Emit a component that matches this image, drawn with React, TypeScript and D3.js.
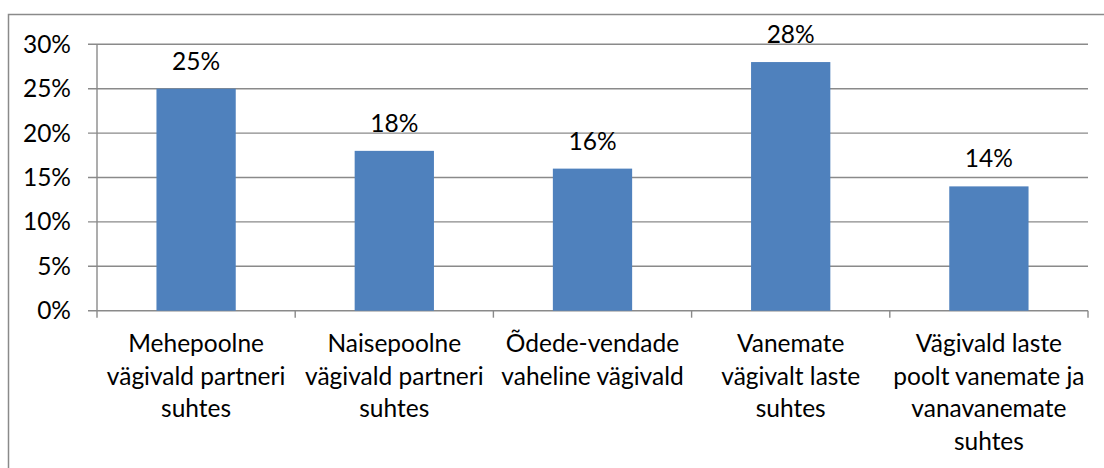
import React from 'react';
import * as d3 from 'd3';

const categories = [
  ['Mehepoolne', 'vägivald partneri', 'suhtes'],
  ['Naisepoolne', 'vägivald partneri', 'suhtes'],
  ['Õdede-vendade', 'vaheline vägivald'],
  ['Vanemate', 'vägivalt laste', 'suhtes'],
  ['Vägivald laste', 'poolt vanemate ja', 'vanavanemate', 'suhtes'],
];
const values = [0.25, 0.18, 0.16, 0.28, 0.14];
const yTicks = [0, 0.05, 0.1, 0.15, 0.2, 0.25, 0.3];

const W = 1104;
const H = 468;
const PLOT = { left: 97, right: 1088, top: 44.3, bottom: 310.7 };
const FONT = 'Lato, "DejaVu Sans", sans-serif';
const BAR = '#4F81BD';
const GRID = '#8a8a8a';
const FS = 24.5;

export default function App() {
  const keys = categories.map((c) => c.join(' '));
  const x = d3
    .scaleBand<string>()
    .domain(keys)
    .range([PLOT.left, PLOT.right])
    .paddingInner(0.6)
    .paddingOuter(0.3);
  const cat = d3.scaleBand<string>().domain(keys).range([PLOT.left, PLOT.right]);
  const y = d3.scaleLinear().domain([0, 0.3]).range([PLOT.bottom, PLOT.top]);
  const pct = d3.format('.0%');

  return (
    <svg
      width={W}
      height={H}
      style={{ position: 'absolute', left: 0, top: 0, background: '#fff' }}
      fontFamily={FONT}
    >
      {/* chart border */}
      <rect x={8.5} y={14.5} width={1120} height={480} fill="#fff" stroke={GRID} strokeWidth={1.5} />

      {/* gridlines + y labels */}
      {yTicks.map((t) => (
        <g key={t}>
          <line x1={PLOT.left - 9} x2={PLOT.right} y1={y(t)} y2={y(t)} stroke={GRID} strokeWidth={1.4} />
          <text x={71} y={y(t) + 8.5} textAnchor="end" fontSize={FS} fill="#000">
            {pct(t)}
          </text>
        </g>
      ))}

      {/* y axis */}
      <line x1={PLOT.left} x2={PLOT.left} y1={PLOT.top} y2={PLOT.bottom + 7} stroke={GRID} strokeWidth={1.4} />

      {/* category ticks */}
      {keys.map((k) => (
        <line
          key={k}
          x1={(cat(k) ?? 0) + cat.bandwidth()}
          x2={(cat(k) ?? 0) + cat.bandwidth()}
          y1={PLOT.bottom}
          y2={PLOT.bottom + 7}
          stroke={GRID}
          strokeWidth={1.4}
        />
      ))}

      {/* bars */}
      {values.map((v, i) => (
        <rect
          key={keys[i]}
          x={x(keys[i])}
          y={y(v)}
          width={x.bandwidth()}
          height={y(0) - y(v)}
          fill={BAR}
        />
      ))}

      {/* value labels */}
      {values.map((v, i) => (
        <text
          key={keys[i]}
          x={(x(keys[i]) ?? 0) + x.bandwidth() / 2}
          y={y(v) - 19}
          textAnchor="middle"
          fontSize={FS}
          fill="#000"
        >
          {pct(v)}
        </text>
      ))}

      {/* category labels */}
      {categories.map((lines, i) => (
        <text
          key={keys[i]}
          x={(cat(keys[i]) ?? 0) + cat.bandwidth() / 2}
          textAnchor="middle"
          fontSize={FS}
          fill="#000"
        >
          {lines.map((l, j) => (
            <tspan key={j} x={(cat(keys[i]) ?? 0) + cat.bandwidth() / 2} y={352 + j * 32.5}>
              {l}
            </tspan>
          ))}
        </text>
      ))}
    </svg>
  );
}
